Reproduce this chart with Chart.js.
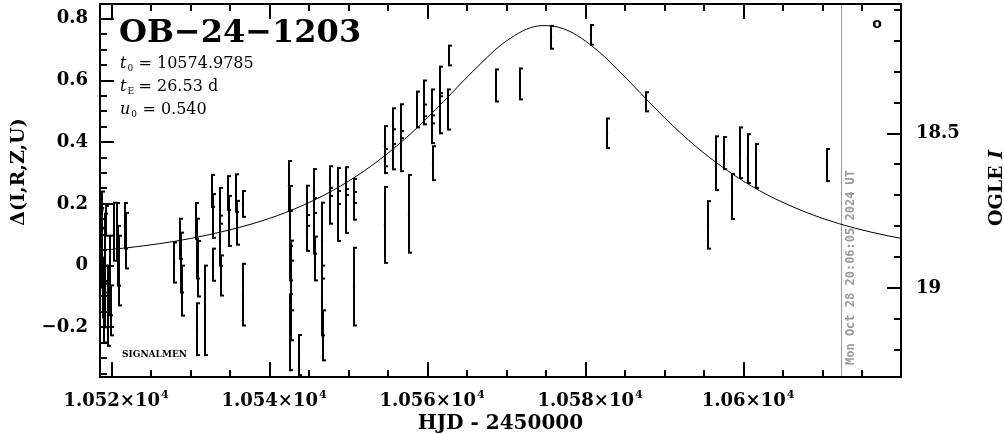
<!DOCTYPE html>
<html>
<head>
<meta charset="utf-8">
<script src="https://cdn.jsdelivr.net/npm/chart.js@4.4.1/dist/chart.umd.min.js"></script>
<style>
  html, body { margin: 0; padding: 0; background: #fff; }
  #wrap { width: 1004px; height: 434px; }
</style>
</head>
<body>
<div id="wrap"><canvas id="lc" width="1004" height="434"></canvas></div>
<script>
// OGLE light curve OB-24-1203: photometry with error bars + point-lens model

// observations (HJD - 2450000), delta mag, error
const hjd = [
  10518.65, 10518.77, 10518.83, 10518.90, 10519.03, 10519.09, 10519.15, 10519.28, 10519.53, 10519.78, 10519.91,
  10520.30, 10520.67, 10520.80, 10520.92, 10521.68, 10521.81,
  10527.89, 10528.65, 10528.77, 10528.90,
  10530.67, 10530.80, 10530.92, 10530.80, 10531.81,
  10532.70, 10532.82, 10532.82, 10533.71, 10533.71, 10533.84,
  10534.72, 10534.85, 10535.73, 10535.86, 10536.62, 10536.62,
  10542.44, 10542.57, 10542.57, 10542.70, 10542.70, 10542.57, 10543.71,
  10544.72, 10544.72, 10545.61, 10545.61, 10545.73, 10546.62, 10546.62, 10546.75,
  10547.63, 10547.63, 10548.65, 10548.65, 10549.66, 10549.66, 10550.67, 10550.67, 10550.67,
  10554.59, 10554.59, 10554.59, 10555.61, 10555.61, 10556.62, 10556.62, 10557.63,
  10558.65, 10559.53, 10559.53, 10560.54, 10560.54, 10560.67, 10561.56, 10561.56, 10562.57, 10562.70,
  10568.65, 10571.68, 10575.61, 10580.67, 10582.70, 10587.63,
  10595.48, 10596.49, 10597.51, 10598.52, 10599.53, 10600.54, 10601.56, 10610.54
];
const dmag = [
  0.106, 0.026, 0.180, -0.071, -0.168, -0.100, 0.055, 0.145, -0.130, -0.032, -0.145,
  0.110, 0.113, 0.032, -0.016, 0.129, 0.081,
  0.010, 0.087, 0.010, -0.081,
  0.145, 0.055, -0.010, -0.206, -0.145,
  0.242, 0.161, 0.003, 0.194, 0.081, -0.032,
  0.235, 0.145, 0.235, 0.139, 0.200, -0.094,
  0.258, 0.161, 0.065, -0.032, -0.113, -0.216, -0.290,
  0.194, 0.106, 0.242, 0.129, 0.023, 0.081, -0.113, -0.226,
  0.274, 0.194, 0.258, 0.161, 0.274, 0.177, 0.242, 0.194, -0.068,
  0.387, 0.339, 0.132, 0.452, 0.377, 0.468, 0.371, 0.168,
  0.506, 0.542, 0.490, 0.516, 0.442, 0.332, 0.597, 0.494, 0.506, 0.681,
  0.584, 0.589, 0.740, 0.748, 0.429, 0.531,
  0.132, 0.332, 0.365, 0.224, 0.366, 0.347, 0.323, 0.326
];
const dmagErr = [
  0.081, 0.097, 0.060, 0.097, 0.081, 0.100, 0.113, 0.048, 0.130, 0.129, 0.081,
  0.094, 0.090, 0.097, 0.113, 0.074, 0.090,
  0.065, 0.065, 0.097, 0.081,
  0.058, 0.097, 0.090, 0.084, 0.145,
  0.052, 0.071, 0.052, 0.058, 0.081, 0.065,
  0.055, 0.081, 0.061, 0.071, 0.042, 0.100,
  0.081, 0.097, 0.113, 0.113, 0.129, 0.123, 0.065,
  0.065, 0.058, 0.071, 0.090, 0.071, 0.123, 0.113, 0.081,
  0.048, 0.058, 0.058, 0.081, 0.045, 0.071, 0.039, 0.045, 0.126,
  0.065, 0.039, 0.123, 0.058, 0.065, 0.055, 0.065, 0.126,
  0.058, 0.058, 0.032, 0.055, 0.045, 0.055, 0.048, 0.065, 0.065, 0.032,
  0.052, 0.050, 0.037, 0.032, 0.048, 0.031,
  0.077, 0.087, 0.052, 0.073, 0.082, 0.079, 0.071, 0.052
];

// model curve
const modelT = [10518, 10522, 10526, 10530, 10534, 10538, 10542, 10546, 10550, 10554,
  10558, 10562, 10566, 10570, 10574, 10575, 10578, 10582, 10586, 10590, 10594,
  10598, 10602, 10606, 10610, 10614, 10618, 10620];
const modelD = [0.048, 0.058, 0.071, 0.088, 0.110, 0.137, 0.172, 0.217, 0.274, 0.345,
  0.431, 0.532, 0.637, 0.729, 0.777, 0.778, 0.759, 0.686, 0.584, 0.479, 0.385,
  0.307, 0.243, 0.193, 0.153, 0.122, 0.098, 0.088];

const xTicks = [10520, 10540, 10560, 10580, 10600];
const xTickLabels = ['1.052×10', '1.054×10', '1.056×10', '1.058×10', '1.06×10'];
const yTicks = [-0.2, 0, 0.2, 0.4, 0.6, 0.8];
const yTickLabels = ['−0.2', '0', '0.2', '0.4', '0.6', '0.8'];
const iTicks = [18.5, 19];
const iTickLabels = ['18.5', '19'];

const X_MIN = 10518.52, X_MAX = 10619.91;
const Y_MIN = -0.361, Y_MAX = 0.848;
const OGLE_BASE = 18.928;           // OGLE I at delta = 0
const NOW_HJD = 10612.36;
const NOW_TEXT = 'Mon Oct 28 20:06:05 2024 UT';

const tickFont = 'bold 18px "DejaVu Serif"';

function line(ctx, x1, y1, x2, y2) {
  ctx.beginPath(); ctx.moveTo(x1, y1); ctx.lineTo(x2, y2); ctx.stroke();
}

const errorBars = {
  id: 'errorBars',
  beforeDatasetsDraw(chart) {
    const {ctx, chartArea: a, scales: {x, y}} = chart;
    ctx.save();
    ctx.beginPath(); ctx.rect(a.left, a.top, a.width, a.height); ctx.clip();
    // "now" marker
    ctx.strokeStyle = '#9a9a9a'; ctx.lineWidth = 1;
    const nx = Math.round(x.getPixelForValue(NOW_HJD)) + 0.5;
    line(ctx, nx, a.top, nx, a.bottom);
    ctx.strokeStyle = '#000'; ctx.lineWidth = 2;
    hjd.forEach((t, i) => {
      const px = Math.round(x.getPixelForValue(t));
      const y1 = y.getPixelForValue(dmag[i] + dmagErr[i]);
      const y2 = y.getPixelForValue(dmag[i] - dmagErr[i]);
      line(ctx, px, y1, px, y2);
      line(ctx, px - 1, y1, px + 3, y1);
      line(ctx, px - 1, y2, px + 3, y2);
    });
    ctx.restore();
  }
};

const frame = {
  id: 'frame',
  afterDraw(chart) {
    const {ctx, chartArea: a, scales: {x, y, y2}} = chart;
    ctx.save();
    ctx.strokeStyle = '#000'; ctx.fillStyle = '#000';
    ctx.lineWidth = 2;
    ctx.strokeRect(a.left, a.top, a.width, a.height);

    // x ticks, top and bottom, every 5 d, long every 20 d
    for (let v = Math.ceil(X_MIN / 5) * 5; v <= X_MAX; v += 5) {
      const px = Math.round(x.getPixelForValue(v));
      const len = v % 20 === 0 ? 15 : 7;
      line(ctx, px, a.bottom, px, a.bottom - len);
      line(ctx, px, a.top, px, a.top + len);
    }
    // left ticks every 0.05, long every 0.2
    for (let k = Math.ceil(Y_MIN * 20); k <= Math.floor(Y_MAX * 20); k++) {
      const py = Math.round(y.getPixelForValue(k / 20));
      const len = k % 4 === 0 ? 14 : 7;
      line(ctx, a.left, py, a.left + len, py);
    }
    // right OGLE I ticks every 0.1 mag, long every 0.5
    const iTop = OGLE_BASE - Y_MAX, iBot = OGLE_BASE - Y_MIN;
    for (let k = Math.ceil(iTop * 10); k <= Math.floor(iBot * 10); k++) {
      const py = Math.round(y2.getPixelForValue(k / 10));
      const len = k % 5 === 0 ? 14 : 7;
      line(ctx, a.right, py, a.right - len, py);
    }

    // tick labels
    ctx.font = tickFont;
    ctx.textBaseline = 'middle';
    ctx.textAlign = 'right';
    yTicks.forEach((v, i) => ctx.fillText(yTickLabels[i], a.left - 12, y.getPixelForValue(v)));
    ctx.textAlign = 'left';
    iTicks.forEach((v, i) => ctx.fillText(iTickLabels[i], a.right + 15, y2.getPixelForValue(v)));
    ctx.textBaseline = 'alphabetic';
    xTicks.forEach((v, i) => {
      const px = x.getPixelForValue(v);
      ctx.font = tickFont;
      const w = ctx.measureText(xTickLabels[i]).width;
      ctx.textAlign = 'left';
      ctx.fillText(xTickLabels[i], px - w / 2, a.bottom + 29);
      ctx.font = 'bold 11px "DejaVu Serif"';
      ctx.fillText('4', px + w / 2 + 1, a.bottom + 21);
    });

    // axis titles
    ctx.font = 'bold 20px "DejaVu Serif"';
    ctx.textAlign = 'center';
    ctx.fillText('HJD - 2450000', (a.left + a.right) / 2, 429);

    ctx.save();
    ctx.translate(24, 172); ctx.rotate(-Math.PI / 2);
    ctx.font = 'bold 19px "DejaVu Serif"';
    ctx.textAlign = 'center';
    ctx.fillText('Δ(I,R,Z,U)', 0, 0);
    ctx.restore();

    ctx.save();
    ctx.translate(1002, 188); ctx.rotate(-Math.PI / 2);
    ctx.font = 'bold 19px "DejaVu Serif"';
    const w1 = ctx.measureText('OGLE ').width;
    ctx.font = 'bold italic 19px "DejaVu Serif"';
    const w2 = ctx.measureText('I').width;
    ctx.textAlign = 'left';
    ctx.font = 'bold 19px "DejaVu Serif"';
    ctx.fillText('OGLE ', -(w1 + w2) / 2, 0);
    ctx.font = 'bold italic 19px "DejaVu Serif"';
    ctx.fillText('I', -(w1 + w2) / 2 + w1, 0);
    ctx.restore();

    // "now" stamp
    ctx.save();
    const nx = Math.round(x.getPixelForValue(NOW_HJD));
    ctx.translate(nx + 13, a.bottom - 12); ctx.rotate(-Math.PI / 2);
    ctx.fillStyle = '#9a9a9a';
    ctx.font = 'bold 12px "DejaVu Sans Mono"';
    ctx.textAlign = 'left';
    ctx.fillText(NOW_TEXT, 0, 0);
    ctx.restore();

    // event label and fit parameters
    ctx.textAlign = 'left';
    ctx.font = 'bold 32px "DejaVu Serif"';
    ctx.fillText('OB−24−1203', a.left + 19, 42);

    const params = [['t', '0', ' = 10574.9785'], ['t', 'E', ' = 26.53 d'], ['u', '0', ' = 0.540']];
    params.forEach((p, i) => {
      const bx = a.left + 20, by = 68 + i * 23;
      ctx.font = 'italic 16px "DejaVu Serif"';
      ctx.fillText(p[0], bx, by);
      const w = ctx.measureText(p[0]).width;
      ctx.font = '9px "DejaVu Serif"';
      ctx.fillText(p[1], bx + w + 1, by + 3);
      ctx.font = '16px "DejaVu Serif"';
      ctx.fillText(p[2], bx + w + 7, by);
    });

    ctx.font = 'bold 9px "DejaVu Serif"';
    ctx.fillText('SIGNALMEN', a.left + 22, 357);

    ctx.font = 'bold 14px "DejaVu Sans"';
    ctx.textAlign = 'center';
    ctx.textBaseline = 'middle';
    ctx.fillText('o', a.right - 24, a.top + 20);
    ctx.restore();
  }
};

new Chart(document.getElementById('lc'), {
  type: 'scatter',
  data: {
    datasets: [
      {
        label: 'model',
        type: 'line',
        data: modelT.map((t, i) => ({x: t, y: modelD[i]})),
        borderColor: '#000',
        borderWidth: 1,
        pointRadius: 0,
        cubicInterpolationMode: 'monotone',
        fill: false
      },
      {
        label: 'OGLE',
        data: hjd.map((t, i) => ({x: t, y: dmag[i]})),
        backgroundColor: '#000',
        borderColor: '#000',
        pointStyle: 'rect',
        pointRadius: 1.5,
        borderWidth: 0
      }
    ]
  },
  options: {
    responsive: false,
    animation: false,
    devicePixelRatio: 1,
    layout: { padding: { left: 100, right: 103, top: 2, bottom: 57 } },
    plugins: { legend: { display: false }, tooltip: { enabled: false } },
    scales: {
      x: { type: 'linear', min: X_MIN, max: X_MAX, display: false },
      y: { type: 'linear', min: Y_MIN, max: Y_MAX, display: false },
      y2: { type: 'linear', min: OGLE_BASE - Y_MAX, max: OGLE_BASE - Y_MIN, reverse: true, display: false, position: 'right' }
    }
  },
  plugins: [errorBars, frame]
});
</script>
</body>
</html>
